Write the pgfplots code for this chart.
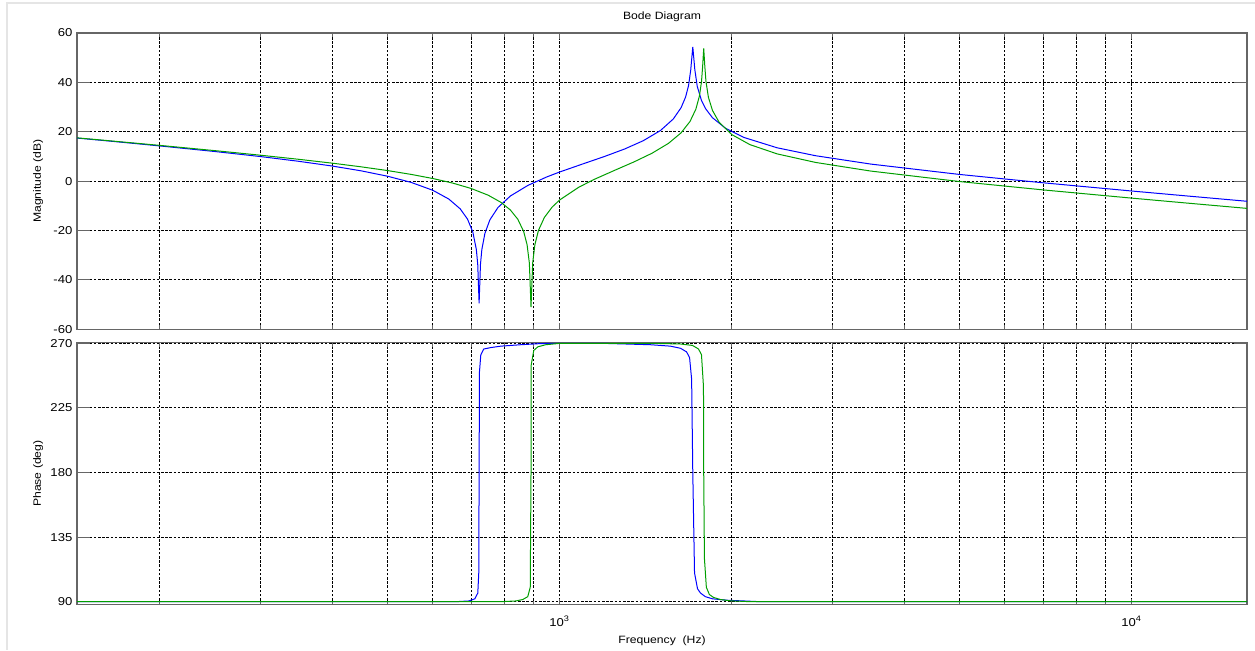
\documentclass[border=0pt]{standalone}
\usepackage{pgfplots}
\pgfplotsset{compat=1.18}
\usepackage{fontspec}
\setmainfont[FakeStretch=1.15]{Liberation Sans}
\definecolor{mblue}{rgb}{0,0,1}
\definecolor{mgreen}{rgb}{0,0.62,0}
\pgfplotsset{
  bode/.style={
    scale only axis, width=585pt, xmin=143.24, xmax=15915,
    font=\fontsize{5.3}{6.4}\selectfont,
    /pgf/number format/assume math mode=true,
    tick label style={font=\fontsize{5.7}{6.8}\selectfont},
    yticklabel style={xshift=1.2pt},
    xticklabel style={yshift=-2pt},
    xtick={1000,10000},
    minor xtick={200,300,400,500,600,700,800,900,2000,3000,4000,5000,6000,7000,8000,9000},
    xmajorgrids=true, xminorgrids=true, ymajorgrids=true,
    major grid style={black, line width=0.45pt, dash pattern=on 1.3pt off 0.8pt},
    minor grid style={black, line width=0.45pt, dash pattern=on 1.3pt off 0.8pt},
    axis line style={black!60, line width=0.7pt},
    tick style={black!60, line width=0.5pt},
    ytick style={/pgfplots/major tick length=6.5pt},
    xtick style={/pgfplots/major tick length=3pt, /pgfplots/minor tick length=2pt},
    every axis y label/.style={at={(axis description cs:-0.0333,0.5)}, rotate=90, anchor=center},
    every axis title/.style={at={(0.5,1)}, anchor=base, yshift=6.5pt, inner sep=0pt},
  }
}
\begin{document}
\begin{tikzpicture}
\useasboundingbox (0pt,0pt) rectangle (627.5pt,325pt);
\draw[line width=1pt, black!10] (3.5pt,0pt) -- (3.5pt,323.5pt) -- (627.5pt,323.5pt);
\begin{semilogxaxis}[bode, at={(38.5pt,160.35pt)}, anchor=south west, height=148.15pt,
  ymin=-60, ymax=60, ytick={-60,-40,-20,0,20,40,60}, xticklabels={},
  title={Bode Diagram},
  ylabel={Magnitude (dB)}]
\addplot[mblue, line width=0.5pt] coordinates {
(143.3,17.44) (160,16.42) (180,15.29) (200,14.26) (250,11.98) (300,9.95) (350,8.03) (400,6.13) (450,4.16) (500,2.00) (550,-0.51) (600,-3.70) (640,-7.25) (670,-11.22) (690,-15.37) (705,-20.65) (715,-27.71) (719,-33.73) (723,-49.5) (727,-33.74) (731,-27.72) (740,-21.18) (755,-15.69) (780,-10.67) (820,-6.01) (880,-1.71) (950,1.74) (1000,3.71) (1100,7.05) (1200,10.06) (1300,13.06) (1400,16.38) (1500,20.49) (1580,25.18) (1630,29.72) (1660,34.02) (1680,38.68) (1695,45.08) (1709,54.4) (1723,45.21) (1740,38.38) (1770,32.64) (1800,29.29) (1850,25.69) (1950,21.41) (2100,17.69) (2400,13.51) (2800,10.31) (3500,6.91) (5000,2.72) (7000,-0.66) (10000,-3.99) (12500,-6.00) (15915,-8.15)
};
\addplot[mgreen, line width=0.5pt] coordinates {
(143.3,17.54) (160,16.54) (200,14.48) (250,12.34) (300,10.50) (350,8.84) (400,7.29) (450,5.79) (500,4.29) (550,2.73) (600,1.07) (650,-0.78) (700,-2.96) (750,-5.69) (790,-8.62) (820,-11.69) (845,-15.45) (865,-20.38) (877,-25.75) (885,-33.09) (891,-51) (897,-33.08) (905,-25.70) (918,-19.97) (940,-14.74) (970,-10.51) (1000,-7.61) (1080,-2.45) (1150,0.75) (1250,4.47) (1350,7.84) (1450,11.30) (1550,15.32) (1630,19.55) (1690,24.18) (1730,29.12) (1755,34.41) (1770,40.24) (1778,46.31) (1786,53.8) (1794,46.40) (1802,40.42) (1820,33.97) (1850,28.64) (1900,23.87) (2000,18.85) (2150,14.81) (2400,11.04) (2800,7.59) (3500,4.08) (5000,-0.15) (7000,-3.54) (10000,-6.87) (12500,-8.88) (15915,-11.03)
};
\end{semilogxaxis}
\begin{semilogxaxis}[bode, at={(38.5pt,22.65pt)}, anchor=south west, height=131pt,
  ymin=87.9, ymax=270.4, ytick={90,135,180,225,270},
  xticklabels={10\textsuperscript{3},10\textsuperscript{4}},
  xlabel={Frequency~~(Hz)},
  every axis x label/.style={at={(axis description cs:0.5,-0.1385)}, anchor=center},
  ylabel={Phase (deg)}]
\addplot[mblue, line width=0.5pt] coordinates {
(143.3,90) (658,90) (693.6,90.5) (710.6,92) (719.2,96) (722,110) (723,180) (724,250) (727.9,262) (736.7,266) (757.6,267) (788.8,268) (855.2,269) (926.5,269.8) (1000,270) (1179,270) (1278,269.6) (1441,269) (1562,268) (1627,266.5) (1667,264) (1687,260) (1701,245) (1709,180) (1721,110) (1742,99) (1763,96) (1798,93.5) (1850,92) (1965,91) (2244,90) (15915,90)
};
\addplot[mgreen, line width=0.5pt] coordinates {
(143.3,90) (788.8,90) (837.9,90.5) (861.8,91.5) (879.3,93.5) (888.2,100) (891,180) (891.8,255) (900.8,265) (915.4,267.5) (945.4,269) (1004,270) (1441,270) (1627,269.5) (1707,268.5) (1749,266) (1770,262) (1784,240) (1786,180) (1791,120) (1805,100) (1827,95) (1857,93) (1910,91.5) (1989,90.6) (2156,90) (15915,90)
};
\end{semilogxaxis}
\end{tikzpicture}
\end{document}
